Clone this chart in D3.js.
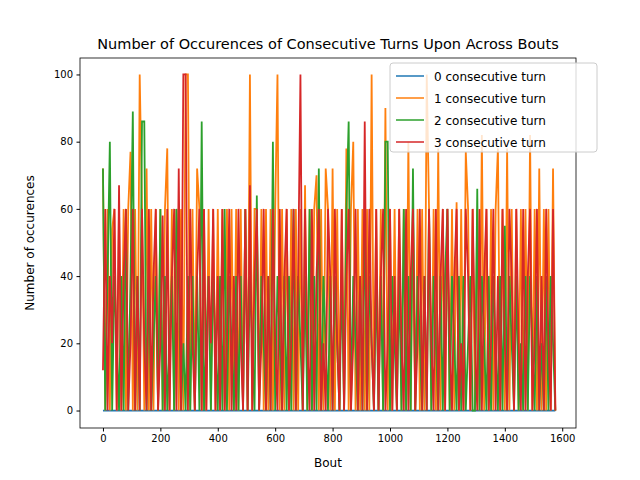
<!DOCTYPE html>
<html><head><meta charset="utf-8">
<script src="https://cdn.jsdelivr.net/npm/d3@7"></script>
<style>body{margin:0;background:#fff}text{font-family:"DejaVu Sans",sans-serif}</style>
</head><body><svg id="c" width="640" height="480"></svg>
<script>
// values, one sample every 8 bouts
var step = 8;
var seriesNames = ["0 consecutive turn", "1 consecutive turn", "2 consecutive turn", "3 consecutive turn"];
var colors = ["#1f77b4", "#ff7f0e", "#2ca02c", "#d62728"];
var xTicks = [0, 200, 400, 600, 800, 1000, 1200, 1400, 1600];
var yTicks = [0, 20, 40, 60, 80, 100];

var zero = [
 0,0,0,0,0,0,0,0,0,0,0,0,0,0,0,0,0,0,0,0, 0,0,0,0,0,0,0,0,0,0,0,0,0,0,0,0,0,0,0,0,
 0,0,0,0,0,0,0,0,0,0,0,0,0,0,0,0,0,0,0,0, 0,0,0,0,0,0,0,0,0,0,0,0,0,0,0,0,0,0,0,0,
 0,0,0,0,0,0,0,0,0,0,0,0,0,0,0,0,0,0,0,0, 0,0,0,0,0,0,0,0,0,0,0,0,0,0,0,0,0,0,0,0,
 0,0,0,0,0,0,0,0,0,0,0,0,0,0,0,0,0,0,0,0, 0,0,0,0,0,0,0,0,0,0,0,0,0,0,0,0,0,0,0,0,
 0,0,0,0,0,0,0,0,0,0,0,0,0,0,0,0,0,0,0,0, 0,0,0,0,0,0,0,0,0,0,0,0,0,0,0,0,0,0];
var one = [
 72,0,60,0,54,60,0,60,0,60,0,60,77,0,60,0,100,60,0,72,
 0,60,0,60,0,60,0,60,78,0,60,0,60,0,60,0,100,100,0,60,
 0,72,60,0,60,0,60,0,60,0,60,0,60,0,60,0,60,0,60,0,
 60,0,60,0,100,0,60,60,0,60,0,60,0,60,0,60,100,0,60,0,
 60,0,60,0,60,0,60,0,67,0,60,0,60,70,0,60,0,72,60,0,
 72,0,60,0,60,0,78,0,60,80,0,60,0,60,0,60,0,100,0,60,
 0,60,0,90,0,60,0,60,0,60,0,60,0,80,0,60,0,60,0,60,
 0,100,60,0,60,0,78,0,60,0,60,0,60,0,62,0,60,0,77,60,
 0,60,0,60,0,82,0,60,0,60,0,60,78,0,60,0,78,0,60,0,
 60,0,60,0,60,0,82,0,60,0,72,0,60,0,60,0,72,0];
var two = [
 72,0,40,80,0,40,20,0,40,0,60,0,40,89,0,40,0,86,86,0,
 40,0,20,40,0,60,0,40,0,20,40,0,60,40,0,20,0,40,0,40,
 0,40,0,86,0,20,40,0,40,20,0,40,0,60,0,40,20,0,40,0,
 40,0,60,0,40,20,0,64,0,40,20,0,40,0,80,0,40,20,0,40,
 0,40,0,60,0,40,20,0,40,0,60,0,40,0,72,0,40,20,0,40,
 0,40,20,0,40,0,60,86,0,40,20,0,40,0,60,0,40,20,0,40,
 0,40,0,80,80,0,40,20,0,40,0,60,0,40,0,72,0,40,20,0,
 40,0,60,0,40,20,0,40,0,40,60,0,40,20,0,40,0,40,0,20,
 40,0,0,66,0,40,20,0,40,0,40,20,0,40,0,55,0,40,20,0,
 40,0,20,0,40,0,40,20,0,40,0,20,0,40,0,40,20,0];
var three = [
 12,60,0,40,20,60,0,67,0,40,60,0,20,60,0,40,0,60,20,0,
 60,0,40,60,0,20,58,0,60,0,40,60,0,72,0,100,100,0,60,20,
 0,40,60,0,60,0,40,20,60,0,40,0,60,0,20,60,0,40,0,60,
 20,0,60,0,67,0,40,60,0,20,60,0,40,0,60,20,0,60,0,40,
 60,0,20,60,0,40,100,0,60,20,0,60,0,40,60,0,20,0,60,40,
 0,60,20,0,60,0,40,60,0,20,60,0,40,0,86,0,60,20,0,60,
 0,40,60,0,20,60,0,40,0,60,20,0,60,0,40,60,0,20,60,0,
 40,0,60,20,0,60,0,40,60,0,60,20,0,40,60,0,20,0,60,40,
 0,60,20,0,60,0,40,60,0,20,60,0,40,0,60,20,0,60,40,0,
 60,20,0,60,0,40,60,0,20,60,0,40,0,60,20,0,60,0];
var series = [zero, one, two, three];

var svg = d3.select("#c");
var L = 80, R = 576, T = 58, B = 428;
var x = d3.scaleLinear().domain([-80, 1648]).range([L, R]);
var y = d3.scaleLinear().domain([-5.2, 104.9]).range([B, T]);

var g = svg.append("g");
var line = d3.line().x(function (d, i) { return x(i * step); }).y(function (d) { return y(d); });
series.forEach(function (s, k) {
    g.append("path").datum(s).attr("d", line).attr("fill", "none")
        .attr("stroke", colors[k]).attr("stroke-width", 1.8).attr("stroke-linejoin", "miter");
});

var fmt = d3.format("d");
svg.append("g").attr("transform", "translate(0," + B + ")")
    .call(d3.axisBottom(x).tickValues(xTicks).tickFormat(fmt).tickSize(3.5).tickPadding(3.5))
    .call(function (a) { a.select(".domain").remove(); a.selectAll("text").attr("font-size", 10).attr("fill", "#000"); });
svg.append("g").attr("transform", "translate(" + L + ",0)")
    .call(d3.axisLeft(y).tickValues(yTicks).tickFormat(fmt).tickSize(3.5).tickPadding(3.5))
    .call(function (a) { a.select(".domain").remove(); a.selectAll("text").attr("font-size", 10).attr("fill", "#000"); });
svg.append("rect").attr("x", L).attr("y", T).attr("width", R - L).attr("height", B - T)
    .attr("fill", "none").attr("stroke", "#000").attr("stroke-width", 0.8);

svg.append("text").attr("x", (L + R) / 2).attr("y", 49).attr("text-anchor", "middle")
    .attr("font-size", 14.5).text("Number of Occurences of Consecutive Turns Upon Across Bouts");
svg.append("text").attr("x", (L + R) / 2).attr("y", 467).attr("text-anchor", "middle")
    .attr("font-size", 12).text("Bout");
svg.append("text").attr("transform", "translate(34," + (T + B) / 2 + ") rotate(-90)")
    .attr("text-anchor", "middle").attr("font-size", 12).text("Number of occurences");

var lg = svg.append("g").attr("transform", "translate(390,63)");
lg.append("rect").attr("width", 207).attr("height", 89).attr("rx", 3)
    .attr("fill", "rgba(255,255,255,0.8)").attr("stroke", "#ccc");
seriesNames.forEach(function (n, k) {
    var yy = 13 + k * 22;
    lg.append("line").attr("x1", 6).attr("x2", 34).attr("y1", yy).attr("y2", yy)
        .attr("stroke", colors[k]).attr("stroke-width", 1.5);
    lg.append("text").attr("x", 44).attr("y", yy + 4.5).attr("font-size", 12).text(n);
});
</script></body></html>
